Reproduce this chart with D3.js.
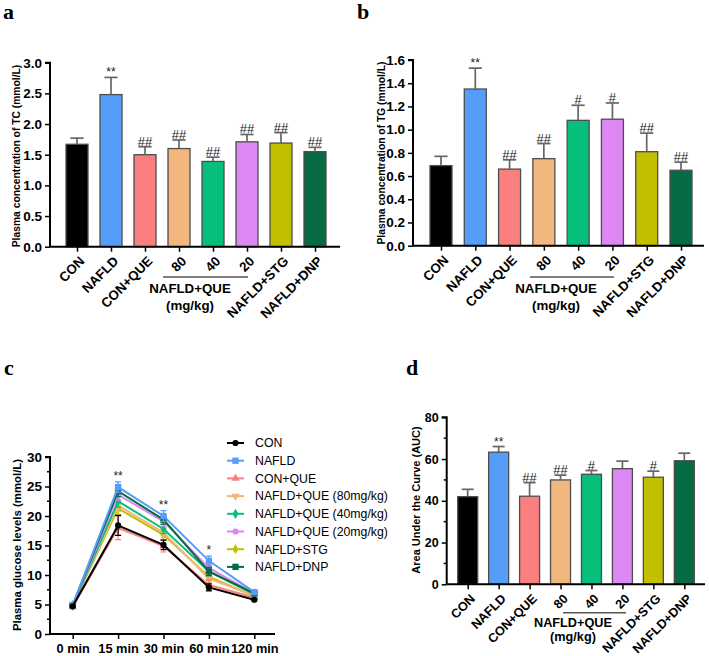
<!DOCTYPE html>
<html><head><meta charset="utf-8">
<script src="https://cdn.jsdelivr.net/npm/d3@7"></script>
<style>
body{margin:0;background:#fff;}
svg{display:block;font-family:"Liberation Sans",Arial,sans-serif;}
</style></head>
<body>
<svg id="c" width="709" height="656"></svg>
<script>
// ---------- DATA ----------
const groups = ["CON","NAFLD","CON+QUE","80","40","20","NAFLD+STG","NAFLD+DNP"];
const colors = ["#000000","#559df8","#fa7f7f","#f1b77e","#05bf7a","#dc87f3","#c1bf00","#066a43"];

const tcMean = [1.67,2.48,1.50,1.60,1.39,1.71,1.69,1.55];
const tcErr  = [0.10,0.28,0.13,0.14,0.07,0.12,0.17,0.07];
const tcSig  = ["","**","##","##","##","##","##","##"];
const tcTicks = [0,0.5,1.0,1.5,2.0,2.5,3.0];

const tgMean = [0.69,1.35,0.66,0.75,1.08,1.09,0.81,0.65];
const tgErr  = [0.08,0.18,0.08,0.13,0.13,0.14,0.16,0.07];
const tgSig  = ["","**","##","##","#","#","##","##"];
const tgTicks = [0,0.2,0.4,0.6,0.8,1.0,1.2,1.4,1.6];

const aucMean = [42.0,63.3,42.2,50.0,52.7,55.4,51.3,59.2];
const aucErr  = [3.5,2.7,6.5,2.3,1.8,3.6,2.9,3.6];
const aucSig  = ["","**","##","##","#","","#",""];
const aucTicks = [0,20,40,60,80];

const times = ["0 min","15 min","30 min","60 min","120 min"];
const glcTicks = [0,5,10,15,20,25,30];
const seriesNames = ["CON","NAFLD","CON+QUE","NAFLD+QUE (80mg/kg)","NAFLD+QUE (40mg/kg)","NAFLD+QUE (20mg/kg)","NAFLD+STG","NAFLD+DNP"];
const seriesShapes = ["circle","square","triangle","triangleDown","diamond","circle","diamond","square"];
const glcCON   = [4.7,18.4,15.1,7.9,5.8];
const glcNAFLD = [4.9,24.9,20.0,12.4,7.1];
const glcCQ    = [4.6,18.0,14.9,8.3,6.2];
const glcQ80   = [4.8,21.8,17.2,9.4,6.5];
const glcQ40   = [4.8,22.5,17.8,10.6,6.7];
const glcQ20   = [4.8,23.6,19.1,11.2,6.9];
const glcSTG   = [4.8,21.3,16.8,9.7,6.4];
const glcDNP   = [4.9,24.2,19.4,10.6,6.9];
const glcErrCON   = [0.2,1.7,0.8,0.6,0.2];
const glcErrNAFLD = [0.2,0.9,0.9,0.8,0.3];
const glcErrCQ    = [0.2,2.0,1.0,0.9,0.3];
const glcSig = ["","**","**","*",""];

// ---------- DRAW ----------
const svg = d3.select("#c");
const FONT = "'Liberation Sans',Arial,sans-serif";

function panelLetter(t,x,y){
  svg.append("text").attr("x",x).attr("y",y).text(t)
    .attr("font-family","'Liberation Serif','Times New Roman',serif")
    .attr("font-weight","bold").attr("font-size",22);
}

function barPanel(o){
  const g = svg.append("g");
  const y = d3.scaleLinear().domain([o.ticks[0],o.ticks[o.ticks.length-1]]).range([o.y0,o.y1]);
  const x = d3.scalePoint().domain(groups).range([o.c0,o.c1]);
  const bw = o.bw;
  g.selectAll("rect.bar").data(o.mean).join("rect")
    .attr("x",(d,i)=>x(groups[i])-bw/2).attr("width",bw)
    .attr("y",d=>y(d)).attr("height",d=>o.y0-y(d))
    .attr("fill",(d,i)=>colors[i]).attr("stroke","#4d4d4d").attr("stroke-width",1.3);
  o.mean.forEach((m,i)=>{
    const cx = x(groups[i]), top = y(m+o.err[i]);
    g.append("line").attr("x1",cx).attr("x2",cx).attr("y1",y(m)).attr("y2",top)
      .attr("stroke","#666").attr("stroke-width",1.7);
    g.append("line").attr("x1",cx-bw*0.3).attr("x2",cx+bw*0.3).attr("y1",top).attr("y2",top)
      .attr("stroke","#666").attr("stroke-width",1.7);
    if(o.sig[i]) g.append("text").attr("x",cx).attr("y",top-1).attr("text-anchor","middle")
      .attr("font-size",o.sig[i]=="**"?12:13).attr("fill","#222").attr("font-family",FONT).text(o.sig[i]);
  });
  const ya = g.append("g").attr("transform",`translate(${o.ax},0)`)
    .call(d3.axisLeft(y).tickValues(o.ticks).tickFormat(o.fmt).tickSize(5).tickPadding(3));
  if(o.minor){
    ya.selectAll("line.minor").data(o.minor).join("line").attr("class","minor")
      .attr("x1",-3).attr("x2",0).attr("y1",d=>y(d)).attr("y2",d=>y(d)).attr("stroke","#000").attr("stroke-width",1.5);
  }
  ya.select(".domain").attr("stroke","#000").attr("stroke-width",2).attr("d",`M-5,${o.y1}H0V${o.y0}`);
  ya.selectAll(".tick line").attr("stroke-width",1.5);
  ya.selectAll("text").attr("font-size",o.tfs).attr("font-weight","bold").attr("font-family",FONT).attr("fill","#000");
  const xa = g.append("g").attr("transform",`translate(0,${o.y0})`)
    .call(d3.axisBottom(x).tickSize(5).tickFormat(""));
  xa.select(".domain").attr("stroke","#000").attr("stroke-width",2).attr("d",`M${o.ax},0H${o.axEnd}`);
  xa.selectAll(".tick line").attr("stroke-width",1.5);
  groups.forEach((gname,i)=>{
    g.append("text").attr("transform",`translate(${x(gname)+5},${o.y0+12}) rotate(-45)`)
      .attr("text-anchor","end").attr("dy","0.35em").attr("font-size",o.xfs).attr("font-weight","bold")
      .attr("font-family",FONT).text(gname);
  });
  g.append("line").attr("x1",o.br[0]).attr("x2",o.br[1]).attr("y1",o.br[2]).attr("y2",o.br[2])
    .attr("stroke","#555").attr("stroke-width",1.5);
  g.append("text").attr("x",o.brText[0]).attr("y",o.brText[1]).attr("text-anchor","middle")
    .attr("font-size",o.xfs).attr("font-weight","bold").attr("font-family",FONT).text("NAFLD+QUE");
  g.append("text").attr("x",o.brText[0]).attr("y",o.brText[2]).attr("text-anchor","middle")
    .attr("font-size",o.xfs).attr("font-weight","bold").attr("font-family",FONT).text("(mg/kg)");
  g.append("text").attr("transform",`translate(${o.lab[0]},${o.lab[1]}) rotate(-90)`)
    .attr("text-anchor","middle").attr("font-size",o.lfs).attr("font-weight","bold").attr("font-family",FONT)
    .text(o.label);
}

barPanel({mean:tcMean,err:tcErr,sig:tcSig,ticks:tcTicks,fmt:d3.format(".1f"),
  y0:246.7,y1:62.7,c0:77,c1:315,bw:22,ax:50,axEnd:340,tfs:13.5,xfs:13.3,
  br:[163,248,277],brText:[190,293,310],lab:[20,156],lfs:10.3,label:"Plasma concentration of TC (mmol/L)"});
barPanel({mean:tgMean,err:tgErr,sig:tgSig,ticks:tgTicks,fmt:d3.format(".1f"),
  y0:245.7,y1:60,c0:441,c1:681,bw:22,ax:413,axEnd:704,tfs:13.5,xfs:13.3,
  br:[530,614,277],brText:[556,293,310],lab:[385,153],lfs:10.3,label:"Plasma concentration of TG (mmol/L)"});
barPanel({mean:aucMean,err:aucErr,sig:aucSig,ticks:aucTicks,fmt:d3.format("d"),minor:[10,30,50,70],
  y0:584.3,y1:417.3,c0:467.7,c1:684.3,bw:20,ax:446.7,axEnd:705,tfs:12.5,xfs:12.7,
  br:[563,626,612.7],brText:[573,627,641],lab:[420,500],lfs:11,label:"Area Under the Curve (AUC)"});

// ---------- panel c line chart ----------
(function(){
  const g = svg.append("g");
  const y = d3.scaleLinear().domain([0,30]).range([634,457]);
  const x = d3.scalePoint().domain(times).range([72.7,254.3]);
  const series = [glcCON,glcNAFLD,glcCQ,glcQ80,glcQ40,glcQ20,glcSTG,glcDNP];
  const errs = [glcErrCON,glcErrNAFLD,glcErrCQ,[0.2,1.0,0.8,0.7,0.3],[0.2,1.0,0.8,0.7,0.3],[0.2,0.9,0.8,0.6,0.3],[0.2,1.0,0.8,0.7,0.3],[0.2,0.9,0.8,0.7,0.3]];
  const sym = {circle:d3.symbolCircle,square:d3.symbolSquare,triangle:d3.symbolTriangle,diamond:d3.symbolDiamond,triangleDown:d3.symbolTriangle};
  const line = d3.line().x((d,i)=>x(times[i])).y(d=>y(d));
  const order = [6,3,2,4,5,7,1,0];
  order.forEach(s=>{
    const vals = series[s];
    vals.forEach((v,i)=>{
      const cx=x(times[i]), e=errs[s][i];
      g.append("path").attr("d",`M${cx},${y(v-e)}V${y(v+e)}M${cx-3},${y(v-e)}h6M${cx-3},${y(v+e)}h6`)
        .attr("stroke",colors[s]).attr("stroke-width",1.2).attr("fill","none");
    });
    g.append("path").attr("d",line(vals)).attr("fill","none").attr("stroke",colors[s]).attr("stroke-width",2);
    g.selectAll(null).data(vals).join("path")
      .attr("transform",(d,i)=>`translate(${x(times[i])},${y(d)})${seriesShapes[s]=="triangleDown"?" rotate(180)":""}`)
      .attr("d",d3.symbol().type(sym[seriesShapes[s]]).size(seriesShapes[s]=="square"?40:30))
      .attr("fill",colors[s]);
  });
  glcSig.forEach((t,i)=>{
    if(t) g.append("text").attr("x",x(times[i])).attr("y",y(glcNAFLD[i]+glcErrNAFLD[i])-2)
      .attr("text-anchor","middle").attr("font-size",12).attr("font-family",FONT).attr("fill","#222").text(t);
  });
  const ya = g.append("g").attr("transform","translate(50,0)")
    .call(d3.axisLeft(y).tickValues(glcTicks).tickSize(5).tickPadding(3));
  ya.selectAll("line.minor").data([2.5,7.5,12.5,17.5,22.5,27.5]).join("line").attr("class","minor")
    .attr("x1",-3).attr("x2",0).attr("y1",d=>y(d)).attr("y2",d=>y(d)).attr("stroke","#000").attr("stroke-width",1.5);
  ya.select(".domain").attr("stroke-width",2).attr("d","M-5,457H0V634");
  ya.selectAll(".tick line").attr("stroke-width",1.5);
  ya.selectAll("text").attr("font-size",13.5).attr("font-weight","bold").attr("font-family",FONT);
  const xa = g.append("g").attr("transform","translate(0,634)")
    .call(d3.axisBottom(x).tickSize(5).tickPadding(5));
  xa.select(".domain").attr("stroke-width",2).attr("d","M50,0H275");
  xa.selectAll(".tick line").attr("stroke-width",1.5);
  xa.selectAll("text").attr("font-size",12.8).attr("font-weight","bold").attr("font-family",FONT);
  g.append("text").attr("transform","translate(21,545) rotate(-90)").attr("text-anchor","middle")
    .attr("font-size",11.4).attr("font-weight","bold").attr("font-family",FONT).text("Plasma glucose levels (mmol/L)");
  seriesNames.forEach((n,i)=>{
    const ly = 443 + i*17.7;
    g.append("line").attr("x1",227).attr("x2",244).attr("y1",ly).attr("y2",ly).attr("stroke",colors[i]).attr("stroke-width",2);
    g.append("path").attr("transform",`translate(235.5,${ly})${seriesShapes[i]=="triangleDown"?" rotate(180)":""}`)
      .attr("d",d3.symbol().type(sym[seriesShapes[i]]).size(seriesShapes[i]=="square"?40:30)).attr("fill",colors[i]);
    g.append("text").attr("x",255).attr("y",ly+4.3).attr("font-size",12.3).attr("font-family",FONT).text(n);
  });
})();

panelLetter("a",3,19);
panelLetter("b",357,19);
panelLetter("c",4,375);
panelLetter("d",406,375);
</script>
</body></html>
